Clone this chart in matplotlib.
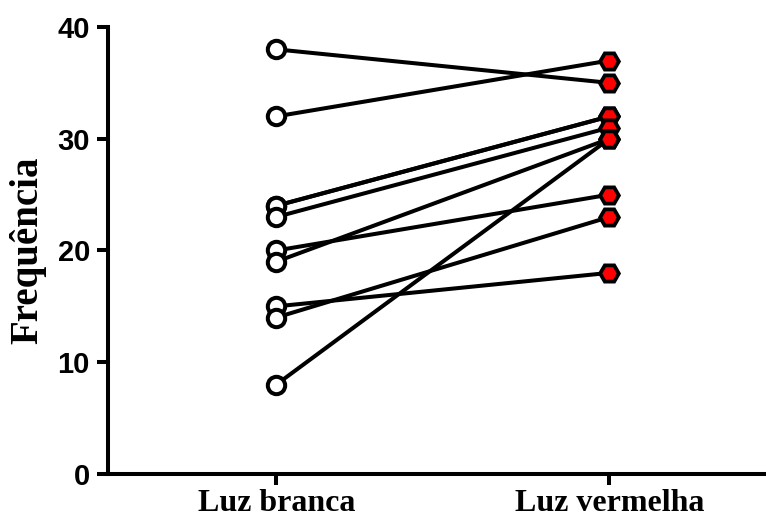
import matplotlib.pyplot as plt

groups = ['Luz branca', 'Luz vermelha']
luz_branca = [38, 32, 24, 24, 23, 20, 19, 15, 14, 8]
luz_vermelha = [35, 37, 32, 32, 31, 25, 30, 18, 23, 30]

fig = plt.figure(figsize=(7.66, 5.21), dpi=100)
ax = fig.add_axes([0.141, 0.0902, 0.859, 0.858])

for a, b in zip(luz_branca, luz_vermelha):
    ax.plot([0, 1], [a, b], color='black', lw=2.9, zorder=2)
ax.plot([0] * len(luz_branca), luz_branca, ls='none', marker='o', ms=12.5,
        mfc='white', mec='black', mew=2.9, zorder=3, clip_on=False)
ax.plot([1] * len(luz_vermelha), luz_vermelha, ls='none', marker='H', ms=13.5,
        mfc='red', mec='black', mew=2.7, zorder=3, clip_on=False)

ax.set_xlim(-0.505, 1.47)
ax.set_ylim(0, 40)
ax.set_xticks([0, 1])
ax.set_xticklabels(groups, fontfamily='Liberation Serif', fontweight='bold', fontsize=23)
ax.set_yticks([0, 10, 20, 30, 40])
for lab in ax.get_yticklabels():
    lab.set_fontfamily('Liberation Sans')
    lab.set_fontweight('bold')
    lab.set_fontsize(21)
ax.set_ylabel('Frequência', fontfamily='Liberation Serif', fontweight='bold',
              fontsize=28, labelpad=8)
ax.spines['top'].set_visible(False)
ax.spines['right'].set_visible(False)
for s in ('left', 'bottom'):
    ax.spines[s].set_linewidth(2.9)
ax.tick_params(width=2.9, length=8, pad=5)
ax.tick_params(axis='x', pad=3)

fig.savefig('out.png', dpi=100)
